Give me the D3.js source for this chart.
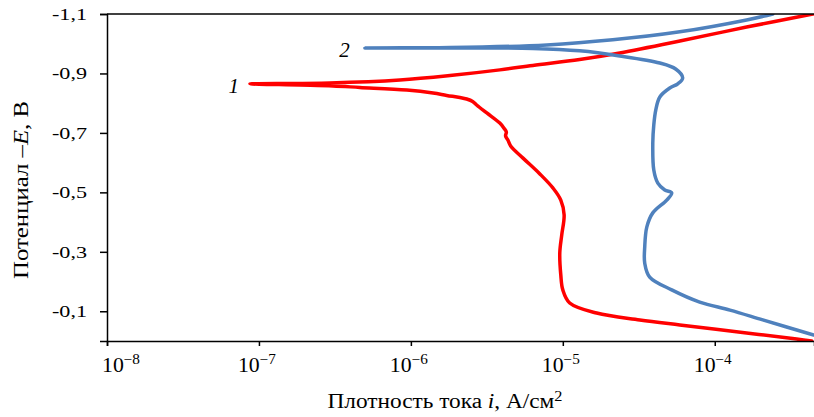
<!DOCTYPE html>
<meta charset="utf-8">
<script src="https://d3js.org/d3.v7.min.js"></script>
<style>
  body { margin: 0; background: #fff; }
  svg text { font-family: "Liberation Serif", "Times New Roman", serif; fill: #000; }
</style>
<div id="chart"></div>
<script>
// tick values
var xTicks = [1e-8, 1e-7, 1e-6, 1e-5, 1e-4];
var xTickExp = ["8", "7", "6", "5", "4"];
var yTicks = [-0.1, -0.3, -0.5, -0.7, -0.9, -1.1];

// curve 1 (red): current density, A/cm2 and potential, V
var i1 = [4.42e-4, 1.62e-4, 5.89e-5, 2.37e-5, 1.29e-5, 6.35e-6, 3.85e-6, 1.81e-6, 8.47e-7, 2.93e-7, 8.73e-8,
          1.86e-7, 3.07e-7, 4.61e-7, 9.41e-7, 1.40e-6, 1.72e-6, 2.10e-6, 2.33e-6, 2.55e-6,
          2.72e-6, 3.16e-6, 3.85e-6, 4.10e-6, 4.25e-6, 4.20e-6, 4.35e-6, 4.55e-6, 5.45e-6,
          7.06e-6, 8.60e-6, 9.70e-6, 1.02e-5, 9.84e-6, 9.55e-6, 9.70e-6, 1.00e-5, 1.11e-5, 1.67e-5,
          3.21e-5, 5.89e-5, 1.62e-4, 3.46e-4, 4.35e-4];
var e1 = [-1.100, -1.056, -1.009, -0.969, -0.947, -0.927, -0.912, -0.893, -0.878, -0.868, -0.865,
          -0.861, -0.858, -0.853, -0.844, -0.834, -0.826, -0.819, -0.814, -0.806,
          -0.793, -0.767, -0.733, -0.716, -0.703, -0.690, -0.676, -0.655, -0.616,
          -0.562, -0.515, -0.474, -0.424, -0.357, -0.296, -0.222, -0.172, -0.128, -0.094,
          -0.071, -0.054, -0.027, -0.007, 0.000];

// curve 2 (blue)
var i2 = [2.41e-4, 1.62e-4, 5.89e-5, 2.13e-5, 7.85e-6, 1.81e-6, 4.98e-7, 1.81e-6, 6.35e-6, 1.29e-5,
          2.37e-5, 4.35e-5, 5.53e-5, 6.15e-5, 5.71e-5, 5.06e-5, 4.35e-5, 4.09e-5, 3.97e-5, 3.91e-5,
          3.97e-5, 4.22e-5, 4.69e-5, 5.21e-5, 4.83e-5, 3.91e-5, 3.57e-5, 3.46e-5, 3.46e-5, 3.73e-5,
          5.21e-5, 7.96e-5, 1.26e-4, 2.07e-4, 4.48e-4];
var e2 = [-1.100, -1.080, -1.040, -1.013, -0.996, -0.987, -0.986, -0.986, -0.984, -0.976,
          -0.959, -0.935, -0.915, -0.885, -0.865, -0.851, -0.821, -0.777, -0.727, -0.666,
          -0.575, -0.531, -0.508, -0.498, -0.474, -0.431, -0.383, -0.316, -0.262, -0.215,
          -0.172, -0.131, -0.104, -0.071, -0.020];

var margin = {top: 14, right: 0, bottom: 76, left: 107},
  W = 814, H = 417,
  width = W - margin.left - margin.right,
  height = H - margin.top - margin.bottom;

var svg = d3.select("#chart").append("svg")
  .attr("width", W).attr("height", H);

var g = svg.append("g")
  .attr("transform", "translate(" + margin.left + "," + margin.top + ")");

var x = d3.scaleLog().domain([1e-8, 4.5e-4]).range([0, width]);
var y = d3.scaleLinear().domain([0, -1.1]).range([height, 0]);

g.append("clipPath").attr("id", "clip")
  .append("rect").attr("width", width).attr("height", height);

// curves
var line = d3.line()
  .x(function(d) { return x(d[0]); })
  .y(function(d) { return y(d[1]); })
  .curve(d3.curveCatmullRom.alpha(0.5));

var curves = [
  {i: i1, e: e1, color: "#ff0000"},
  {i: i2, e: e2, color: "#4f81bd"}
];
curves.forEach(function(c) {
  g.append("path")
    .datum(c.i.map(function(v, k) { return [v, c.e[k]]; }))
    .attr("clip-path", "url(#clip)")
    .attr("fill", "none")
    .attr("stroke", c.color)
    .attr("stroke-width", 3.5)
    .attr("stroke-linejoin", "round")
    .attr("stroke-linecap", "round")
    .attr("d", line);
});

// top border
g.append("line")
  .attr("x1", 0).attr("x2", width).attr("y1", 0).attr("y2", 0)
  .attr("stroke", "#000").attr("stroke-width", 1.5);

// y axis
var yAxis = g.append("g")
  .call(d3.axisLeft(y).tickValues(yTicks).tickSize(7).tickFormat(""));
yAxis.select(".domain").attr("stroke-width", 1.5);
yAxis.selectAll(".tick line").attr("stroke-width", 1.5);

g.selectAll(".ylab")
  .data(yTicks).enter().append("text")
  .attr("class", "ylab")
  .attr("x", -20)
  .attr("y", function(d) { return y(d) + 6; })
  .attr("text-anchor", "end")
  .style("font-size", "17px")
  .attr("textLength", 35)
  .attr("lengthAdjust", "spacingAndGlyphs")
  .text(function(d) { return d3.format(".1f")(d).replace(".", ",").replace("−", "-"); });

// x axis
var xAxis = g.append("g")
  .attr("transform", "translate(0," + height + ")")
  .call(d3.axisBottom(x).tickValues(xTicks).tickSize(5).tickFormat(""));
xAxis.select(".domain").attr("stroke-width", 1.5);
xAxis.selectAll(".tick line").attr("stroke-width", 1.5);

var xl = g.selectAll(".xlab")
  .data(xTicks).enter().append("text")
  .attr("class", "xlab")
  .attr("x", function(d, k) { return k === 0 ? x(d) - 5 : x(d) - 2; })
  .attr("y", height + 31)
  .attr("text-anchor", function(d, k) { return k === 0 ? "start" : "middle"; })
  .attr("textLength", 38)
  .attr("lengthAdjust", "spacingAndGlyphs")
  .style("font-size", "20px");
xl.append("tspan").text("10");
xl.append("tspan")
  .attr("dy", -8)
  .style("font-size", "14px")
  .text(function(d, k) { return "\u2212" + xTickExp[k]; });

// axis titles
var xt = svg.append("text")
  .attr("x", 445).attr("y", 408)
  .attr("text-anchor", "middle")
  .attr("textLength", 235)
  .attr("lengthAdjust", "spacingAndGlyphs")
  .style("font-size", "20px");
xt.append("tspan").text("Плотность тока ");
xt.append("tspan").style("font-style", "italic").text("i");
xt.append("tspan").text(", А/см");
xt.append("tspan").attr("dy", -7).style("font-size", "14px").text("2");

var yt = svg.append("text")
  .attr("transform", "translate(28,190) rotate(-90)")
  .attr("text-anchor", "middle")
  .attr("textLength", 178)
  .attr("lengthAdjust", "spacingAndGlyphs")
  .style("font-size", "20px");
yt.append("tspan").text("Потенциал –");
yt.append("tspan").style("font-style", "italic").text("E");
yt.append("tspan").text(", В");

// curve labels
g.append("text")
  .attr("x", x(i1[10]) - 11).attr("y", y(e1[10]) + 9)
  .attr("text-anchor", "end")
  .style("font-size", "21px").style("font-style", "italic")
  .text("1");
g.append("text")
  .attr("x", x(i2[6]) - 15).attr("y", y(e2[6]) + 9)
  .attr("text-anchor", "end")
  .style("font-size", "21px").style("font-style", "italic")
  .text("2");
</script>
